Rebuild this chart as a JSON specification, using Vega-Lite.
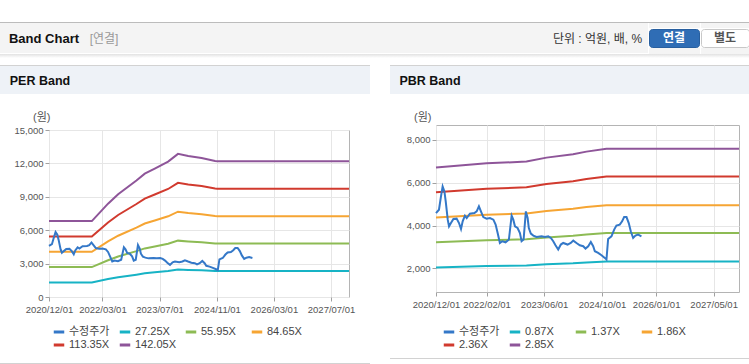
{
"$schema":"https://vega.github.io/schema/vega-lite/v6.json",
"padding":0,
"background":"#ffffff",
"config":{"view":{"stroke":null},"font":"Liberation Sans, Noto Sans CJK KR","axis":{"labelFont":"Liberation Sans, Noto Sans CJK KR","labelFontSize":9.5,"labelColor":"#555555","tickColor":"#a0a0a0","tickSize":4,"gridColor":"#e6e6e6","domain":false,"labelPadding":2,"title":null},"legend":{"labelFont":"Liberation Sans, Noto Sans CJK KR"}},
"datasets":{
"price":[
{"d":"2020-12-01","s":"수정주가","v":4586},{"d":"2020-12-26","s":"수정주가","v":4744},{"d":"2021-01-12","s":"수정주가","v":5363},{"d":"2021-01-26","s":"수정주가","v":5828},{"d":"2021-02-10","s":"수정주가","v":5595},{"d":"2021-02-21","s":"수정주가","v":5130},{"d":"2021-03-10","s":"수정주가","v":4279},{"d":"2021-03-21","s":"수정주가","v":3967},{"d":"2021-04-06","s":"수정주가","v":4121},{"d":"2021-04-27","s":"수정주가","v":4307},{"d":"2021-05-24","s":"수정주가","v":4326},{"d":"2021-06-13","s":"수정주가","v":4121},{"d":"2021-06-30","s":"수정주가","v":3842},{"d":"2021-07-14","s":"수정주가","v":4200},{"d":"2021-08-02","s":"수정주가","v":4465},{"d":"2021-08-17","s":"수정주가","v":4354},{"d":"2021-09-13","s":"수정주가","v":4558},{"d":"2021-10-21","s":"수정주가","v":4586},{"d":"2021-11-09","s":"수정주가","v":4665},{"d":"2021-11-28","s":"수정주가","v":4898},{"d":"2021-12-15","s":"수정주가","v":4665},{"d":"2022-01-04","s":"수정주가","v":4400},{"d":"2022-02-01","s":"수정주가","v":4326},{"d":"2022-03-01","s":"수정주가","v":4354},{"d":"2022-03-30","s":"수정주가","v":4279},{"d":"2022-04-18","s":"수정주가","v":4047},{"d":"2022-05-05","s":"수정주가","v":3656},{"d":"2022-05-24","s":"수정주가","v":3191},{"d":"2022-06-13","s":"수정주가","v":3270},{"d":"2022-07-11","s":"수정주가","v":3223},{"d":"2022-08-08","s":"수정주가","v":3349},{"d":"2022-08-31","s":"수정주가","v":4465},{"d":"2022-09-14","s":"수정주가","v":4279},{"d":"2022-09-28","s":"수정주가","v":3967},{"d":"2022-10-20","s":"수정주가","v":3888},{"d":"2022-11-09","s":"수정주가","v":3656},{"d":"2022-11-23","s":"수정주가","v":3270},{"d":"2022-12-10","s":"수정주가","v":3349},{"d":"2022-12-29","s":"수정주가","v":4665},{"d":"2023-01-13","s":"수정주가","v":4354},{"d":"2023-01-23","s":"수정주가","v":3888},{"d":"2023-02-09","s":"수정주가","v":3628},{"d":"2023-03-02","s":"수정주가","v":3535},{"d":"2023-03-29","s":"수정주가","v":3470},{"d":"2023-05-11","s":"수정주가","v":3502},{"d":"2023-06-07","s":"수정주가","v":3470},{"d":"2023-07-06","s":"수정주가","v":3502},{"d":"2023-07-28","s":"수정주가","v":3423},{"d":"2023-08-17","s":"수정주가","v":3270},{"d":"2023-09-05","s":"수정주가","v":3084},{"d":"2023-09-28","s":"수정주가","v":2884},{"d":"2023-10-20","s":"수정주가","v":3116},{"d":"2023-11-09","s":"수정주가","v":3191},{"d":"2023-12-16","s":"수정주가","v":3116},{"d":"2024-01-12","s":"수정주가","v":3191},{"d":"2024-02-02","s":"수정주가","v":3302},{"d":"2024-02-29","s":"수정주가","v":3191},{"d":"2024-03-28","s":"수정주가","v":3084},{"d":"2024-04-26","s":"수정주가","v":3037},{"d":"2024-05-15","s":"수정주가","v":2930},{"d":"2024-06-07","s":"수정주가","v":3037},{"d":"2024-06-29","s":"수정주가","v":3237},{"d":"2024-07-19","s":"수정주가","v":3037},{"d":"2024-08-02","s":"수정주가","v":2805},{"d":"2024-08-30","s":"수정주가","v":2726},{"d":"2024-09-27","s":"수정주가","v":2619},{"d":"2024-10-25","s":"수정주가","v":2493},{"d":"2024-11-08","s":"수정주가","v":2419},{"d":"2024-11-22","s":"수정주가","v":3377},{"d":"2024-12-20","s":"수정주가","v":3502},{"d":"2025-01-12","s":"수정주가","v":3814},{"d":"2025-01-31","s":"수정주가","v":4000},{"d":"2025-02-28","s":"수정주가","v":4047},{"d":"2025-03-20","s":"수정주가","v":4200},{"d":"2025-04-06","s":"수정주가","v":4400},{"d":"2025-04-26","s":"수정주가","v":4400},{"d":"2025-05-15","s":"수정주가","v":4121},{"d":"2025-06-01","s":"수정주가","v":3735},{"d":"2025-06-21","s":"수정주가","v":3423},{"d":"2025-07-10","s":"수정주가","v":3535},{"d":"2025-08-02","s":"수정주가","v":3581},{"d":"2025-08-30","s":"수정주가","v":3502}
],
"perBands":[
{"d":"2020-12-01","s":"27.25X","v":1308},{"d":"2020-12-01","s":"55.95X","v":2686},{"d":"2020-12-01","s":"84.65X","v":4063},{"d":"2020-12-01","s":"113.35X","v":5441},{"d":"2020-12-01","s":"142.05X","v":6818},
{"d":"2021-12-01","s":"27.25X","v":1308},{"d":"2021-12-01","s":"55.95X","v":2686},{"d":"2021-12-01","s":"84.65X","v":4063},{"d":"2021-12-01","s":"113.35X","v":5441},{"d":"2021-12-01","s":"142.05X","v":6818},
{"d":"2022-04-18","s":"27.25X","v":1608},{"d":"2022-04-18","s":"55.95X","v":3301},{"d":"2022-04-18","s":"84.65X","v":4994},{"d":"2022-04-18","s":"113.35X","v":6688},{"d":"2022-04-18","s":"142.05X","v":8381},
{"d":"2022-07-13","s":"27.25X","v":1771},{"d":"2022-07-13","s":"55.95X","v":3637},{"d":"2022-07-13","s":"84.65X","v":5502},{"d":"2022-07-13","s":"113.35X","v":7368},{"d":"2022-07-13","s":"142.05X","v":9233},
{"d":"2022-12-16","s":"27.25X","v":2008},{"d":"2022-12-16","s":"55.95X","v":4124},{"d":"2022-12-16","s":"84.65X","v":6239},{"d":"2022-12-16","s":"113.35X","v":8354},{"d":"2022-12-16","s":"142.05X","v":10469},
{"d":"2023-02-25","s":"27.25X","v":2126},{"d":"2023-02-25","s":"55.95X","v":4364},{"d":"2023-02-25","s":"84.65X","v":6603},{"d":"2023-02-25","s":"113.35X","v":8841},{"d":"2023-02-25","s":"142.05X","v":11080},
{"d":"2023-05-21","s":"27.25X","v":2213},{"d":"2023-05-21","s":"55.95X","v":4543},{"d":"2023-05-21","s":"84.65X","v":6874},{"d":"2023-05-21","s":"113.35X","v":9204},{"d":"2023-05-21","s":"142.05X","v":11535},
{"d":"2023-09-12","s":"27.25X","v":2333},{"d":"2023-09-12","s":"55.95X","v":4789},{"d":"2023-09-12","s":"84.65X","v":7246},{"d":"2023-09-12","s":"113.35X","v":9703},{"d":"2023-09-12","s":"142.05X","v":12160},
{"d":"2023-12-05","s":"27.25X","v":2466},{"d":"2023-12-05","s":"55.95X","v":5063},{"d":"2023-12-05","s":"84.65X","v":7661},{"d":"2023-12-05","s":"113.35X","v":10258},{"d":"2023-12-05","s":"142.05X","v":12855},
{"d":"2024-03-01","s":"27.25X","v":2431},{"d":"2024-03-01","s":"55.95X","v":4991},{"d":"2024-03-01","s":"84.65X","v":7551},{"d":"2024-03-01","s":"113.35X","v":10111},{"d":"2024-03-01","s":"142.05X","v":12671},
{"d":"2024-06-23","s":"27.25X","v":2395},{"d":"2024-06-23","s":"55.95X","v":4918},{"d":"2024-06-23","s":"84.65X","v":7441},{"d":"2024-06-23","s":"113.35X","v":9964},{"d":"2024-06-23","s":"142.05X","v":12486},
{"d":"2024-10-16","s":"27.25X","v":2344},{"d":"2024-10-16","s":"55.95X","v":4812},{"d":"2024-10-16","s":"84.65X","v":7280},{"d":"2024-10-16","s":"113.35X","v":9748},{"d":"2024-10-16","s":"142.05X","v":12216},
{"d":"2024-11-05","s":"27.25X","v":2338},{"d":"2024-11-05","s":"55.95X","v":4801},{"d":"2024-11-05","s":"84.65X","v":7263},{"d":"2024-11-05","s":"113.35X","v":9725},{"d":"2024-11-05","s":"142.05X","v":12188},
{"d":"2027-12-01","s":"27.25X","v":2338},{"d":"2027-12-01","s":"55.95X","v":4801},{"d":"2027-12-01","s":"84.65X","v":7263},{"d":"2027-12-01","s":"113.35X","v":9725},{"d":"2027-12-01","s":"142.05X","v":12188}
],
"pbrBands":[
{"d":"2020-12-01","s":"0.87X","v":2049},{"d":"2020-12-01","s":"1.37X","v":3226},{"d":"2020-12-01","s":"1.86X","v":4380},{"d":"2020-12-01","s":"2.36X","v":5558},{"d":"2020-12-01","s":"2.85X","v":6712},
{"d":"2022-02-01","s":"0.87X","v":2110},{"d":"2022-02-01","s":"1.37X","v":3322},{"d":"2022-02-01","s":"1.86X","v":4511},{"d":"2022-02-01","s":"2.36X","v":5723},{"d":"2022-02-01","s":"2.85X","v":6911},
{"d":"2023-01-03","s":"0.87X","v":2134},{"d":"2023-01-03","s":"1.37X","v":3361},{"d":"2023-01-03","s":"1.86X","v":4563},{"d":"2023-01-03","s":"2.36X","v":5789},{"d":"2023-01-03","s":"2.85X","v":6991},
{"d":"2023-06-21","s":"0.87X","v":2191},{"d":"2023-06-21","s":"1.37X","v":3450},{"d":"2023-06-21","s":"1.86X","v":4683},{"d":"2023-06-21","s":"2.36X","v":5942},{"d":"2023-06-21","s":"2.85X","v":7176},
{"d":"2024-01-31","s":"0.87X","v":2238},{"d":"2024-01-31","s":"1.37X","v":3524},{"d":"2024-01-31","s":"1.86X","v":4784},{"d":"2024-01-31","s":"2.36X","v":6070},{"d":"2024-01-31","s":"2.85X","v":7330},
{"d":"2024-05-23","s":"0.87X","v":2276},{"d":"2024-05-23","s":"1.37X","v":3584},{"d":"2024-05-23","s":"1.86X","v":4866},{"d":"2024-05-23","s":"2.36X","v":6174},{"d":"2024-05-23","s":"2.85X","v":7456},
{"d":"2024-11-08","s":"0.87X","v":2319},{"d":"2024-11-08","s":"1.37X","v":3651},{"d":"2024-11-08","s":"1.86X","v":4957},{"d":"2024-11-08","s":"2.36X","v":6289},{"d":"2024-11-08","s":"2.85X","v":7595},
{"d":"2027-12-01","s":"0.87X","v":2319},{"d":"2027-12-01","s":"1.37X","v":3651},{"d":"2027-12-01","s":"1.86X","v":4957},{"d":"2027-12-01","s":"2.36X","v":6289},{"d":"2027-12-01","s":"2.85X","v":7595}
]
},
"resolve":{"scale":{"color":"independent"},"legend":{"color":"independent"}},
"spacing":0,
"vconcat":[
{"width":749,"height":22,"data":{"values":[]},"mark":"rect"},
{"width":749,"height":1,"data":{"values":[]},"mark":"rect","view":{"fill":"#bcbcbc"}},
{"spacing":0,"hconcat":[
 {"width":88,"height":30,"data":{"values":[{"t":"Band Chart"}]},"mark":{"type":"text","fontSize":13,"fontWeight":"bold","color":"#111111","dy":1},"encoding":{"text":{"field":"t","type":"nominal"}},"view":{"fill":"#f4f4f4"}},
 {"width":32,"height":30,"data":{"values":[{"t":"[연결]"}]},"mark":{"type":"text","fontSize":12,"color":"#999999","dy":1},"encoding":{"text":{"field":"t","type":"nominal"}},"view":{"fill":"#f4f4f4"}},
 {"width":427,"height":30,"data":{"values":[]},"mark":"rect","view":{"fill":"#f4f4f4"}},
 {"width":101,"height":30,"data":{"values":[{"t":"단위 : 억원, 배, %"}]},"mark":{"type":"text","fontSize":12,"color":"#333333","dy":1},"encoding":{"text":{"field":"t","type":"nominal"}},"view":{"fill":"#f4f4f4"}},
 {"spacing":0,"vconcat":[
  {"width":51,"height":5,"data":{"values":[]},"mark":"rect","view":{"fill":"#f4f4f4"}},
  {"width":50,"height":18,"data":{"values":[{"t":"연결"}]},"mark":{"type":"text","fontSize":12,"fontWeight":"bold","color":"#ffffff"},"encoding":{"text":{"field":"t","type":"nominal"}},"view":{"fill":"#2f6db5","stroke":"#285f9f","cornerRadius":3}},
  {"width":51,"height":6,"data":{"values":[]},"mark":"rect","view":{"fill":"#f4f4f4"}}
 ]},
 {"spacing":0,"vconcat":[
  {"width":49,"height":5,"data":{"values":[]},"mark":"rect","view":{"fill":"#f4f4f4"}},
  {"width":48,"height":18,"data":{"values":[{"t":"별도"}]},"mark":{"type":"text","fontSize":12,"fontWeight":"bold","color":"#555555"},"encoding":{"text":{"field":"t","type":"nominal"}},"view":{"fill":"#ffffff","stroke":"#c8c8c8","cornerRadius":3}},
  {"width":49,"height":6,"data":{"values":[]},"mark":"rect","view":{"fill":"#f4f4f4"}}
 ]},
 {"width":1,"height":30,"data":{"values":[]},"mark":"rect","view":{"fill":"#f4f4f4"}}
]},
{"width":749,"height":4,"data":{"values":[{}]},"mark":{"type":"rect","color":{"gradient":"linear","x1":0,"y1":0,"x2":0,"y2":1,"stops":[{"offset":0,"color":"#e2e2e2"},{"offset":1,"color":"#ffffff"}]}}},
{"width":749,"height":7,"data":{"values":[]},"mark":"rect"},
{"spacing":0,"resolve":{"scale":{"color":"independent"},"legend":{"color":"independent"}},"hconcat":[
 {"spacing":0,"vconcat":[
  {"width":370,"height":1,"data":{"values":[]},"mark":"rect","view":{"fill":"#d2d2d2"}},
  {"spacing":0,"hconcat":[
   {"width":80,"height":28,"data":{"values":[{"t":"PER Band"}]},"mark":{"type":"text","fontSize":12.5,"fontWeight":"bold","color":"#111111","dy":1},"encoding":{"text":{"field":"t","type":"nominal"}},"view":{"fill":"#eef2f7"}},
   {"width":290,"height":28,"data":{"values":[]},"mark":"rect","view":{"fill":"#eef2f7"}}
  ]},
  {"width":370,"height":17,"data":{"values":[]},"mark":"rect"},
  {"spacing":0,"hconcat":[
   {"width":13,"height":1,"data":{"values":[]},"mark":"rect"},
   {"width":300,"height":167,"view":{"stroke":"#b4b4b4"},
    "title":{"text":"(원)","anchor":"start","frame":"group","dx":-16,"fontSize":11,"fontWeight":"normal","color":"#555555","offset":2},
    "encoding":{
     "x":{"field":"d","type":"temporal","scale":{"type":"utc","domain":[{"year":2020,"month":12,"date":1,"utc":true},{"year":2027,"month":12,"date":1,"utc":true}]},
      "axis":{"values":[{"year":2020,"month":12,"date":1,"utc":true},{"year":2022,"month":3,"date":1,"utc":true},{"year":2023,"month":7,"date":1,"utc":true},{"year":2024,"month":11,"date":1,"utc":true},{"year":2026,"month":3,"date":1,"utc":true},{"year":2027,"month":7,"date":1,"utc":true}],"labelExpr":"utcFormat(datum.value, '%Y/%m/%d')","labelFlush":false,"labelOverlap":false,"labelPadding":3}},
     "y":{"field":"v","type":"quantitative","scale":{"domain":[0,15000],"nice":false,"zero":false},"axis":{"values":[0,3000,6000,9000,12000,15000],"format":",d"}},
     "color":{"field":"s","type":"nominal","scale":{"domain":["수정주가","27.25X","55.95X","84.65X","113.35X","142.05X"],"range":["#3478c8","#17b3c5","#8dbb54","#f6a533","#d13a2e","#8e5599"]},
      "legend":{"title":null,"orient":"none","legendX":52,"legendY":260,"direction":"horizontal","columns":4,"symbolType":"stroke","symbolStrokeWidth":3,"symbolSize":110,"labelFontSize":11,"labelColor":"#444444","gridAlign":"all","columnPadding":3,"rowPadding":0,"padding":0,"labelOffset":3}}
    },
    "layer":[
     {"data":{"name":"perBands"},"mark":{"type":"line","strokeWidth":2}},
     {"data":{"name":"price"},"mark":{"type":"line","strokeWidth":2}}
    ]}
  ]},
  {"width":370,"height":49,"data":{"values":[]},"mark":"rect"},
  {"width":370,"height":1,"data":{"values":[]},"mark":"rect","view":{"fill":"#d2d2d2"}}
 ]},
 {"width":20,"height":1,"data":{"values":[]},"mark":"rect"},
 {"spacing":0,"vconcat":[
  {"width":359,"height":1,"data":{"values":[]},"mark":"rect","view":{"fill":"#d2d2d2"}},
  {"spacing":0,"hconcat":[
   {"width":80,"height":28,"data":{"values":[{"t":"PBR Band"}]},"mark":{"type":"text","fontSize":12.5,"fontWeight":"bold","color":"#111111","dy":1},"encoding":{"text":{"field":"t","type":"nominal"}},"view":{"fill":"#eef2f7"}},
   {"width":279,"height":28,"data":{"values":[]},"mark":"rect","view":{"fill":"#eef2f7"}}
  ]},
  {"width":359,"height":17,"data":{"values":[]},"mark":"rect"},
  {"spacing":0,"hconcat":[
   {"width":15,"height":1,"data":{"values":[]},"mark":"rect"},
   {"width":303,"height":167,"view":{"stroke":"#b4b4b4"},
    "title":{"text":"(원)","anchor":"start","frame":"group","dx":-22,"fontSize":11,"fontWeight":"normal","color":"#555555","offset":2},
    "encoding":{
     "x":{"field":"d","type":"temporal","scale":{"type":"utc","domain":[{"year":2020,"month":12,"date":1,"utc":true},{"year":2027,"month":12,"date":1,"utc":true}]},
      "axis":{"values":[{"year":2020,"month":12,"date":1,"utc":true},{"year":2022,"month":2,"date":1,"utc":true},{"year":2023,"month":6,"date":1,"utc":true},{"year":2024,"month":10,"date":1,"utc":true},{"year":2026,"month":1,"date":1,"utc":true},{"year":2027,"month":5,"date":1,"utc":true}],"labelExpr":"utcFormat(datum.value, '%Y/%m/%d')","labelFlush":false,"labelOverlap":false,"labelPadding":3}},
     "y":{"field":"v","type":"quantitative","scale":{"domain":[900,8700],"nice":false,"zero":false},"axis":{"values":[2000,4000,6000,8000],"format":",d"}},
     "color":{"field":"s","type":"nominal","scale":{"domain":["수정주가","0.87X","1.37X","1.86X","2.36X","2.85X"],"range":["#3478c8","#17b3c5","#8dbb54","#f6a533","#d13a2e","#8e5599"]},
      "legend":{"title":null,"orient":"none","legendX":52,"legendY":260,"direction":"horizontal","columns":4,"symbolType":"stroke","symbolStrokeWidth":3,"symbolSize":110,"labelFontSize":11,"labelColor":"#444444","gridAlign":"all","columnPadding":3,"rowPadding":0,"padding":0,"labelOffset":3}}
    },
    "layer":[
     {"data":{"name":"pbrBands"},"mark":{"type":"line","strokeWidth":2}},
     {"data":{"name":"price"},"mark":{"type":"line","strokeWidth":2}}
    ]}
  ]},
  {"width":359,"height":49,"data":{"values":[]},"mark":"rect"},
  {"width":359,"height":1,"data":{"values":[]},"mark":"rect","view":{"fill":"#d2d2d2"}}
 ]}
]}
]
}
